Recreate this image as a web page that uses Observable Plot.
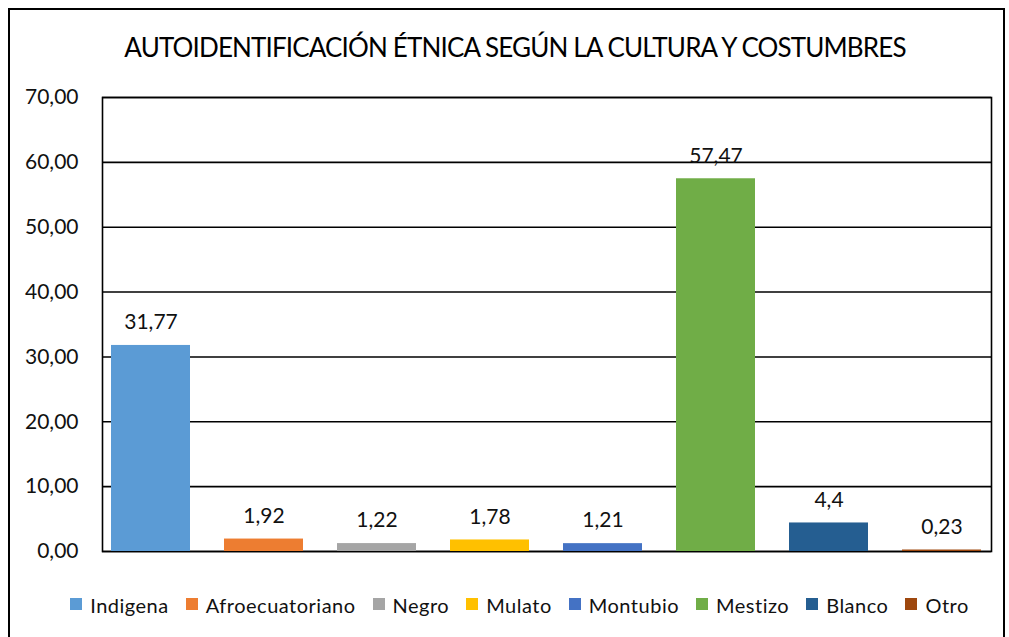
<!DOCTYPE html>
<html>
<head>
<meta charset="utf-8">
<script src="https://cdn.jsdelivr.net/npm/d3@7"></script>
<script src="https://cdn.jsdelivr.net/npm/@observablehq/plot@0.6"></script>
<style>
  html, body { margin: 0; padding: 0; background: #fff; }
  body { width: 1009px; height: 637px; overflow: hidden; position: relative; font-family: Lato, "Open Sans", sans-serif; color: #000; }
  #border { position: absolute; left: 8px; top: 8px; width: 993px; height: 700px; border: 2px solid #000; box-sizing: content-box; }
  #title { position: absolute; left: 0; width: 1030px; top: 31px; text-align: center; font-size: 26px; line-height: 32px; letter-spacing: -0.85px; }
  #chart { position: absolute; left: 0; top: 80px; }
  #legend { position: absolute; left: 0; width: 1039px; top: 593px; display: flex; justify-content: center; gap: 17px; font-size: 20px; line-height: 24px; letter-spacing: 0.5px; color: #111; }
  .item { display: flex; align-items: center; gap: 8px; }
  .sw { width: 12px; height: 12px; margin-top: -3px; }
</style>
</head>
<body>
<div id="border"></div>
<div id="title">AUTOIDENTIFICACIÓN ÉTNICA SEGÚN LA CULTURA Y COSTUMBRES</div>
<div id="chart"></div>
<div id="legend"></div>
<script>
const categories = ["Indigena", "Afroecuatoriano", "Negro", "Mulato", "Montubio", "Mestizo", "Blanco", "Otro"];
const values = [31.77, 1.92, 1.22, 1.78, 1.21, 57.47, 4.4, 0.23];
const valueLabels = ["31,77", "1,92", "1,22", "1,78", "1,21", "57,47", "4,4", "0,23"];
const colors = ["#5B9BD5", "#ED7D31", "#A5A5A5", "#FFC000", "#4472C4", "#70AD47", "#255E91", "#9E480E"];
const yTicks = [0, 10, 20, 30, 40, 50, 60, 70];

const data = categories.map((c, i) => ({cat: c, value: values[i], label: valueLabels[i]}));

const fmt = d => d.toFixed(2).replace(".", ",");

const chart = Plot.plot({
  width: 1009,
  height: 500,
  marginTop: 17,
  marginBottom: 29,
  marginLeft: 102,
  marginRight: 18,
  style: {fontFamily: "Lato, 'Open Sans', sans-serif", fontSize: "21px", color: "#000", background: "transparent"},
  x: {domain: categories, range: [76.5, 1015.2], padding: 0.3, axis: null},
  y: {domain: [0, 70], ticks: yTicks, label: null},
  color: {domain: categories, range: colors},
  marks: [
    Plot.gridY(yTicks, {stroke: "#000", strokeOpacity: 1, strokeWidth: 1.6}),
    Plot.frame({stroke: "#000", strokeWidth: 1.6}),
    Plot.barY(data, {x: "cat", y: "value", fill: "cat"}),
    Plot.text(data, {x: "cat", y: "value", text: "label", dy: -23, fontSize: 21, fill: "#111"}),
    Plot.axisY(yTicks, {tickSize: 0, tickPadding: 24, tickFormat: fmt, fontSize: 21, fill: "#111", label: null})
  ]
});
document.getElementById("chart").appendChild(chart);

const legend = document.getElementById("legend");
categories.forEach((c, i) => {
  const item = document.createElement("div");
  item.className = "item";
  const sw = document.createElement("span");
  sw.className = "sw";
  sw.style.background = colors[i];
  const t = document.createElement("span");
  t.textContent = c;
  item.appendChild(sw);
  item.appendChild(t);
  legend.appendChild(item);
});
</script>
</body>
</html>
